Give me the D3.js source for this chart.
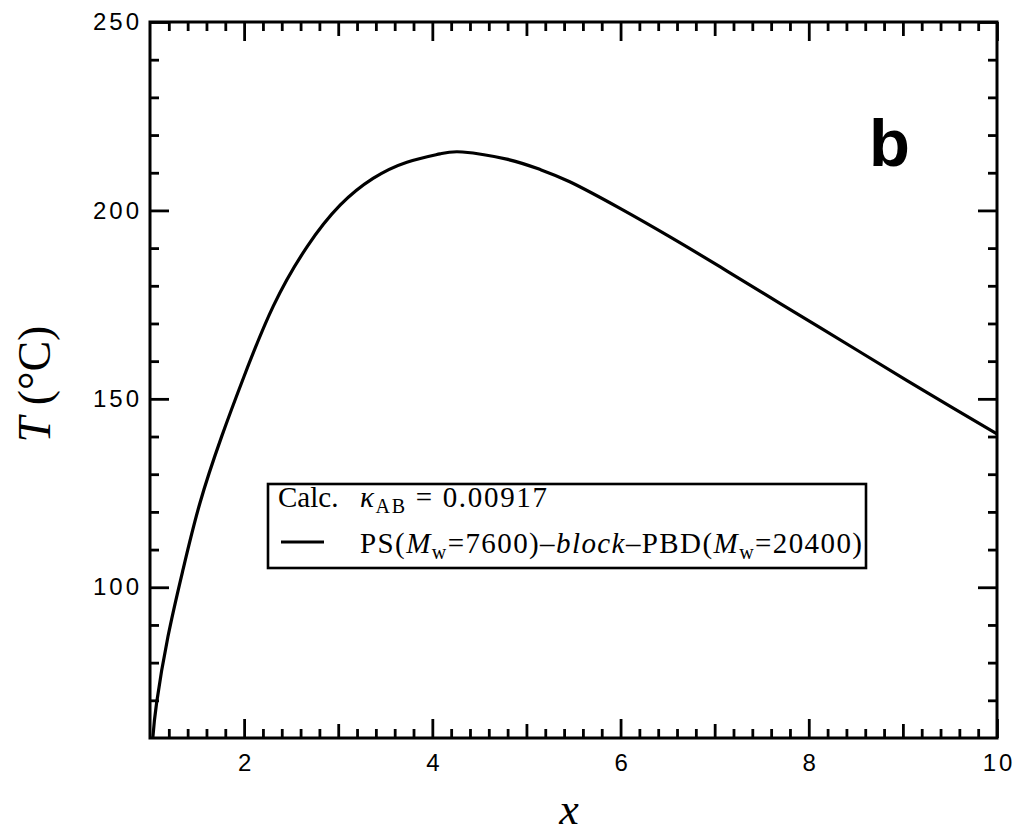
<!DOCTYPE html>
<html>
<head>
<meta charset="utf-8">
<script src="https://cdn.jsdelivr.net/npm/d3@7"></script>
<style>
  html, body { margin: 0; padding: 0; background: #fff; }
  svg { display: block; }
  .tick text { font-family: "Liberation Sans", Arial, sans-serif; font-size: 24px; letter-spacing: 3px; fill: #000; }
  .tick line { stroke: #000; stroke-width: 2.8; }
  .serif { font-family: "Liberation Serif", "Times New Roman", serif; fill: #000; }
</style>
</head>
<body>
<svg id="chart" width="1018" height="835"></svg>
<script>
// Calculated spinodal / ODT temperature T (°C) vs x for PS-block-PBD
const xValues = [1.03, 1.07, 1.19, 1.35, 1.53, 1.76, 2.0, 2.31, 2.67, 3.02, 3.37, 3.73, 4.08, 4.32, 4.79, 5.14, 5.46, 5.99, 6.53, 7.06, 7.59, 8.12, 8.58, 9.04, 9.53, 10.0];
const tValues = [60, 69.3, 86.8, 104.6, 122.3, 139.9, 156.0, 174.6, 190.4, 201.4, 208.5, 212.8, 215.0, 215.5, 213.6, 210.9, 207.6, 200.6, 192.9, 185.0, 176.9, 168.9, 161.9, 154.9, 147.6, 140.7];

const xMajorTicks = [2, 4, 6, 8, 10];
const xMediumTicks = [3, 5, 7, 9];
const yMajorTicks = [100, 150, 200, 250];

const svg = d3.select("#chart");
const plotL = 150, plotR = 997, plotT = 22, plotB = 738;

const x = d3.scaleLinear().domain([1, 10]).range([plotL, plotR]);
const y = d3.scaleLinear().domain([60, 250]).range([plotB, plotT]);

const xMinorTicks = d3.range(6, 50).filter(i => i % 5 !== 0).map(i => i / 5);
const yMinorTicks = d3.range(7, 25).filter(i => i % 5 !== 0).map(i => i * 10);

function addAxis(axis, transform, labels) {
  const g = svg.append("g").attr("transform", transform).call(axis);
  g.select(".domain").remove();
  if (!labels) g.selectAll("text").remove();
  return g;
}

const MAJ = 19, MED = 14, MIN = 9;

// bottom axis (inward ticks, labelled)
addAxis(d3.axisBottom(x).tickValues(xMinorTicks).tickSize(-MIN), `translate(0,${plotB})`, false);
addAxis(d3.axisBottom(x).tickValues(xMediumTicks).tickSize(-MED), `translate(0,${plotB})`, false);
addAxis(d3.axisBottom(x).tickValues(xMajorTicks).tickSize(-MAJ).tickPadding(16).tickFormat(d3.format("d")), `translate(0,${plotB})`, true)
  .selectAll("text").attr("dx", "1.5px");
// top axis
addAxis(d3.axisTop(x).tickValues(xMinorTicks).tickSize(-MIN), `translate(0,${plotT})`, false);
addAxis(d3.axisTop(x).tickValues(xMediumTicks).tickSize(-MED), `translate(0,${plotT})`, false);
addAxis(d3.axisTop(x).tickValues(xMajorTicks).tickSize(-MAJ), `translate(0,${plotT})`, false);
// left axis (labelled)
addAxis(d3.axisLeft(y).tickValues(yMinorTicks).tickSize(-MIN), `translate(${plotL},0)`, false);
addAxis(d3.axisLeft(y).tickValues(yMajorTicks).tickSize(-MAJ).tickPadding(8).tickFormat(d3.format("d")), `translate(${plotL},0)`, true);
// right axis
addAxis(d3.axisRight(y).tickValues(yMinorTicks).tickSize(-MIN), `translate(${plotR},0)`, false);
addAxis(d3.axisRight(y).tickValues(yMajorTicks).tickSize(-MAJ), `translate(${plotR},0)`, false);

// frame
svg.append("rect")
  .attr("x", plotL).attr("y", plotT)
  .attr("width", plotR - plotL).attr("height", plotB - plotT)
  .attr("fill", "none").attr("stroke", "#000").attr("stroke-width", 3);

// curve
const pts = xValues.map((v, i) => [v, tValues[i]]);
const line = d3.line().x(d => x(d[0])).y(d => y(d[1])).curve(d3.curveNatural);
svg.append("path")
  .attr("d", line(pts))
  .attr("fill", "none").attr("stroke", "#000").attr("stroke-width", 3.2)
  .attr("stroke-linejoin", "round");

// axis titles
const yt = svg.append("text").attr("class", "serif")
  .attr("transform", "translate(50,384) rotate(-90)")
  .attr("text-anchor", "middle").attr("font-size", 46);
yt.append("tspan").attr("font-style", "italic").text("T");
yt.append("tspan").text(" (°C)");

svg.append("text").attr("class", "serif")
  .attr("x", 569).attr("y", 824).attr("text-anchor", "middle")
  .attr("font-size", 44).attr("font-style", "italic").text("x");

// panel letter
svg.append("text")
  .attr("x", 869).attr("y", 166)
  .attr("font-family", "Liberation Sans, Arial, sans-serif")
  .attr("font-weight", "bold").attr("font-size", 67).text("b");

// legend
const lg = svg.append("g");
lg.append("rect").attr("x", 268).attr("y", 484).attr("width", 598).attr("height", 84)
  .attr("fill", "#fff").attr("stroke", "#000").attr("stroke-width", 2.6);
lg.append("text").attr("class", "serif").attr("x", 278).attr("y", 507).attr("font-size", 29).text("Calc.");
const l1 = lg.append("text").attr("class", "serif").attr("x", 360).attr("y", 507).attr("font-size", 29)
  .attr("textLength", 187).attr("lengthAdjust", "spacing");
l1.append("tspan").attr("font-style", "italic").text("κ");
l1.append("tspan").attr("font-size", 20).attr("dy", 6).text("AB");
l1.append("tspan").attr("dy", -6).text(" = 0.00917");

lg.append("line").attr("x1", 281).attr("x2", 324).attr("y1", 542).attr("y2", 542)
  .attr("stroke", "#000").attr("stroke-width", 3);
const l2 = lg.append("text").attr("class", "serif").attr("x", 360).attr("y", 553).attr("font-size", 29)
  .attr("textLength", 502).attr("lengthAdjust", "spacing");
l2.append("tspan").text("PS(");
l2.append("tspan").attr("font-style", "italic").text("M");
l2.append("tspan").attr("font-size", 20).attr("dy", 6).text("w");
l2.append("tspan").attr("dy", -6).text("=7600)–");
l2.append("tspan").attr("font-style", "italic").text("block");
l2.append("tspan").text("–PBD(");
l2.append("tspan").attr("font-style", "italic").text("M");
l2.append("tspan").attr("font-size", 20).attr("dy", 6).text("w");
l2.append("tspan").attr("dy", -6).text("=20400)");
</script>
</body>
</html>
